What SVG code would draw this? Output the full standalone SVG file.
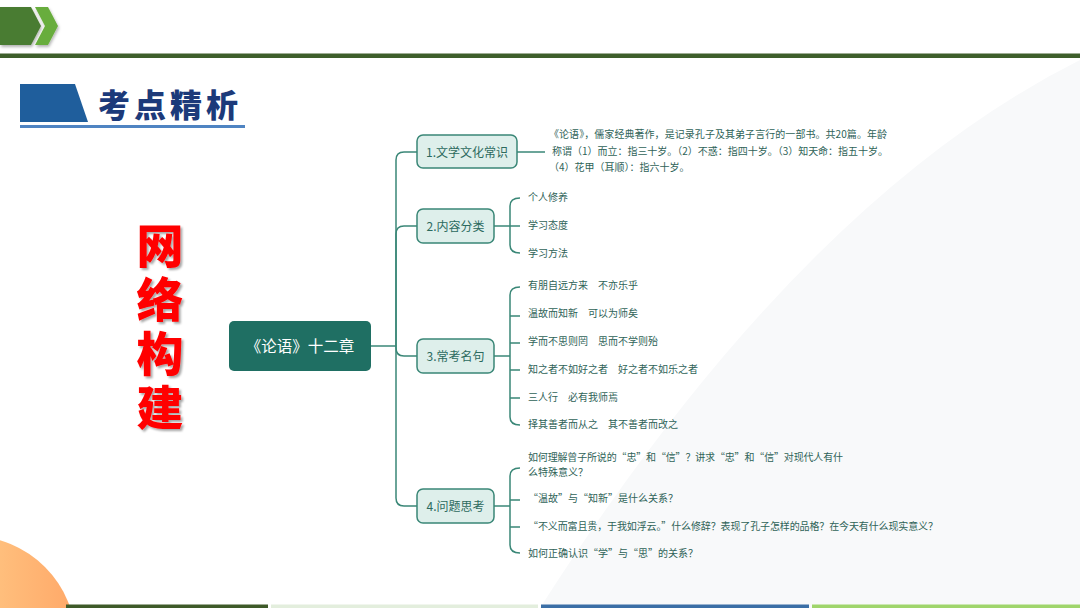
<svg xmlns="http://www.w3.org/2000/svg" width="1080" height="608" viewBox="0 0 1080 608">
<defs>
<style>
text{font-family:"Noto Sans CJK SC","Noto Sans",sans-serif;}
.conn{fill:none;stroke:#3a8777;stroke-width:1.5;}
.node{fill:#deefeb;stroke:#3a8777;stroke-width:1.5;}
.lbl{font-size:12px;fill:#2c6a5e;text-anchor:middle;}
.leaf{font-size:10px;fill:#2f6358;}
.red{font-size:47px;font-weight:900;fill:#ff0000;writing-mode:vertical-rl;letter-spacing:7px;filter:url(#sh);}
</style>
<linearGradient id="og" x1="0" y1="0" x2="1" y2="0">
<stop offset="0" stop-color="#ffe6a0"/>
<stop offset="1" stop-color="#ffa868"/>
</linearGradient>
<filter id="sh" x="-20%" y="-20%" width="140%" height="140%">
<feDropShadow dx="2" dy="2" stdDeviation="1" flood-color="#000" flood-opacity="0.35"/>
</filter>
<filter id="sh2" x="-20%" y="-20%" width="140%" height="140%">
<feDropShadow dx="1" dy="2" stdDeviation="1.5" flood-color="#000" flood-opacity="0.3"/>
</filter>
</defs>
<rect width="1080" height="608" fill="#ffffff"/>
<path d="M1080 60 Q800 200 540 608 L1080 608 Z" fill="#f8f9fa"/>
<!-- top decoration -->
<g id="top-arrows" filter="url(#sh2)">
<polygon points="0,7 31,7 41,26 31,45 0,45" fill="#4a7b30"/>
<polygon points="35,7 48,7 58,26 48,45 35,45 45,26" fill="#68ad3c"/>
</g>
<rect x="0" y="53.5" width="1080" height="4.5" fill="#3e5f2b"/>
<!-- header -->
<g id="header">
<polygon points="20,84 75,84 88,122 20,122" fill="#1f5e9c"/>
<rect x="20" y="125" width="225" height="3" fill="#4f84c2"/>
<text x="98" y="117" style="font-size:32px;font-weight:900;fill:#1c3a7a;letter-spacing:4px">考点精析</text>
</g>
<!-- left title -->
<g id="title">
<text class="red" x="160" y="222">网络构建</text>
</g>
<!-- connectors -->
<g id="connectors">
<path class="conn" d="M371 346 H396"/>
<path class="conn" d="M396 346 V160 Q396 152 404 152 H417"/>
<path class="conn" d="M396 346 V234 Q396 226 404 226 H417"/>
<path class="conn" d="M396 346 V348 Q396 356 404 356 H417"/>
<path class="conn" d="M396 346 V498 Q396 506 404 506 H417"/>
<path class="conn" d="M517 152 H545"/>
<path class="conn" d="M494 226 H520"/>
<path class="conn" d="M520 198 Q510 198 510 206 V245 Q510 253 520 253"/>
<path class="conn" d="M494 356 H510"/>
<path class="conn" d="M520 287 Q510 287 510 295 V417 Q510 425 520 425 M510 316 H520 M510 343 H520 M510 370 H520 M510 398 H520"/>
<path class="conn" d="M494 506 H510"/>
<path class="conn" d="M520 468 Q510 468 510 476 V545 Q510 553 520 553 M510 500 H520 M510 527 H520"/>
</g>
<!-- nodes -->
<g id="root">
<rect x="229" y="321" width="142" height="50" rx="5" fill="#1f6f63"/>
<text x="300" y="352" style="font-size:15.5px;fill:#ffffff;text-anchor:middle">《论语》十二章</text>
</g>
<g id="n1">
<rect class="node" x="417" y="135" width="100" height="33" rx="6"/>
<text class="lbl" x="467" y="156.5">1.文学文化常识</text>
</g>
<g id="n1-text">
<text class="leaf" x="549" y="137.5" textLength="338">《论语》，儒家经典著作，是记录孔子及其弟子言行的一部书。共20篇。年龄</text>
<text class="leaf" x="552" y="154.5" textLength="336">称谓（1）而立：指三十岁。（2）不惑：指四十岁。（3）知天命：指五十岁。</text>
<text class="leaf" x="549" y="170.5">（4）花甲（耳顺）：指六十岁。</text>
</g>
<g id="n2">
<rect class="node" x="417" y="209" width="77" height="34" rx="6"/>
<text class="lbl" x="455.5" y="230.5">2.内容分类</text>
</g>
<g id="n2-leaves">
<text class="leaf" x="528" y="200.5">个人修养</text>
<text class="leaf" x="528" y="228.5">学习态度</text>
<text class="leaf" x="528" y="256.5">学习方法</text>
</g>
<g id="n3">
<rect class="node" x="417" y="339" width="77" height="34" rx="6"/>
<text class="lbl" x="455.5" y="360.5">3.常考名句</text>
</g>
<g id="n3-leaves">
<text class="leaf" x="528" y="288.5">有朋自远方来　不亦乐乎</text>
<text class="leaf" x="528" y="316.5">温故而知新　可以为师矣</text>
<text class="leaf" x="528" y="344.5">学而不思则罔　思而不学则殆</text>
<text class="leaf" x="528" y="372.5">知之者不如好之者　好之者不如乐之者</text>
<text class="leaf" x="528" y="400.5">三人行　必有我师焉</text>
<text class="leaf" x="528" y="427.5">择其善者而从之　其不善者而改之</text>
</g>
<g id="n4">
<rect class="node" x="417" y="489" width="77" height="34" rx="6"/>
<text class="lbl" x="455.5" y="510.5">4.问题思考</text>
</g>
<g id="n4-leaves">
<text class="leaf" x="528" y="460.5" textLength="315">如何理解曾子所说的“忠”和“信”？讲求“忠”和“信”对现代人有什</text>
<text class="leaf" x="528" y="475.5">么特殊意义？</text>
<text class="leaf" x="528" y="501.5">“温故”与“知新”是什么关系？</text>
<text class="leaf" x="528" y="529.5" textLength="410">“不义而富且贵，于我如浮云。”什么修辞？表现了孔子怎样的品格？在今天有什么现实意义？</text>
<text class="leaf" x="528" y="556.5">如何正确认识“学”与“思”的关系？</text>
</g>
<!-- bottom decoration -->
<g id="bottom">
<circle cx="-30" cy="642" r="106" fill="url(#og)"/>
<rect x="66" y="604.5" width="202" height="3.5" fill="#3e5a29"/>
<rect x="271" y="604.5" width="267" height="3.5" fill="#e3eedd"/>
<rect x="541" y="604.5" width="268" height="3.5" fill="#3b6fa6"/>
<rect x="812" y="604.5" width="268" height="3.5" fill="#9fd56b"/>
</g>
</svg>
